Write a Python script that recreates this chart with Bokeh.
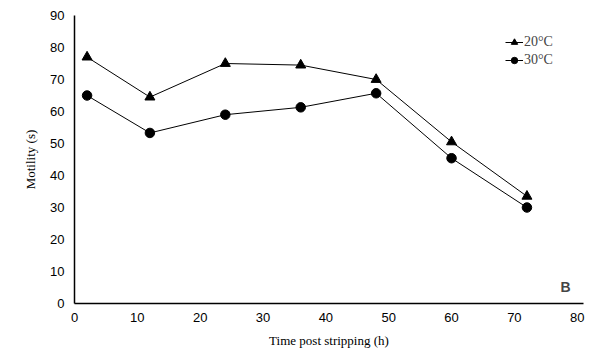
from bokeh.plotting import figure
from bokeh.models import Range1d, Legend, LegendItem, Label, FixedTicker
from bokeh.embed import file_html
from bokeh.resources import INLINE

hours = [2, 12, 24, 36, 48, 60, 72]
motility_20 = [77, 64.5, 75, 74.5, 70, 50.5, 33.5]
motility_30 = [65, 53.3, 59, 61.3, 65.7, 45.4, 30]
x_ticks = [0, 10, 20, 30, 40, 50, 60, 70, 80]
y_ticks = [0, 10, 20, 30, 40, 50, 60, 70, 80, 90]

p = figure(width=596, height=356, output_backend="svg", toolbar_location=None,
           x_range=Range1d(0, 81), y_range=Range1d(0, 90),
           min_border_left=74, min_border_right=13, min_border_top=15, min_border_bottom=53)
p.outline_line_color = None
p.grid.visible = False
p.background_fill_color = "white"

l1 = p.line(hours, motility_20, line_color="black", line_width=1)
s1 = p.scatter(hours, motility_20, marker="triangle", size=10, fill_color="black", line_color="black")
l2 = p.line(hours, motility_30, line_color="black", line_width=1)
s2 = p.scatter(hours, motility_30, marker="circle", size=9.5, fill_color="black", line_color="black")

for ax in (p.xaxis[0], p.yaxis[0]):
    ax.major_tick_line_color = None
    ax.minor_tick_line_color = None
    ax.axis_line_color = "black"
    ax.axis_line_width = 1.5
    ax.major_label_text_font = "Liberation Sans"
    ax.major_label_text_font_size = "13px"
    ax.major_label_text_color = "black"
    ax.axis_label_text_font = "Liberation Serif"
    ax.axis_label_text_font_style = "normal"
    ax.axis_label_text_font_size = "13px"
    ax.axis_label_text_color = "black"

p.xaxis[0].ticker = FixedTicker(ticks=x_ticks)
p.yaxis[0].ticker = FixedTicker(ticks=y_ticks)
p.xaxis[0].axis_label = "Time post stripping (h)"
p.yaxis[0].axis_label = "Motility (s)"
p.xaxis[0].major_label_standoff = 3
p.yaxis[0].major_label_standoff = 4
p.xaxis[0].axis_label_standoff = 8
p.yaxis[0].axis_label_standoff = 9

legend = Legend(items=[LegendItem(label="20°C", renderers=[l1, s1]),
                       LegendItem(label="30°C", renderers=[l2, s2])],
                location=(431, 235), border_line_color=None, background_fill_alpha=0,
                label_text_font="Liberation Serif", label_text_font_size="14px",
                glyph_width=18, glyph_height=16, spacing=2, padding=2, label_standoff=1)
p.add_layout(legend)

p.add_layout(Label(x=486, y=9, x_units="screen", y_units="screen", text="B",
                   text_font="Liberation Sans", text_font_style="bold", text_font_size="14px"))

open("out.html", "w").write(file_html(p, INLINE))
